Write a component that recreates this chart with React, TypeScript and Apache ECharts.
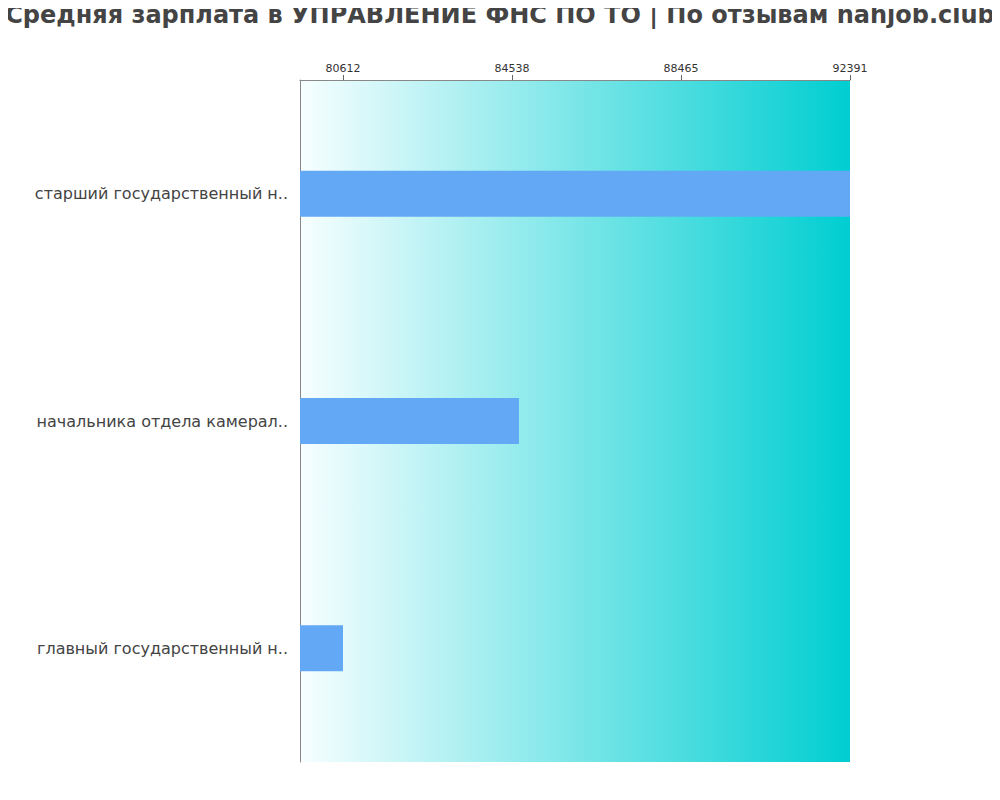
import React, { useEffect, useRef } from 'react';
import * as echarts from 'echarts';

// Job titles, top to bottom as drawn
const categories = [
  'главный государственный н..',
  'начальника отдела камерал..',
  'старший государственный н..',
];
// Average salary per title, same order
const salaries = [80612, 84700, 92391];
// Tick labels on the top axis
const tickValues = [80612, 84538, 88465, 92391];

const axisMin = 79613;
const axisMax = 92391;

const App: React.FC = () => {
  const chartRef = useRef<HTMLDivElement>(null);

  useEffect(() => {
    if (!chartRef.current) return;
    const chart = echarts.init(chartRef.current, undefined, { renderer: 'svg' });

    const option: echarts.EChartsOption = {
      animation: false,
      backgroundColor: '#fff',
      title: {
        text: 'Средняя зарплата в УПРАВЛЕНИЕ ФНС ПО ТО | По отзывам nahjob.club',
        left: 'center',
        top: 3,
        padding: 0,
        textStyle: {
          fontFamily: 'DejaVu Sans',
          fontSize: 24,
          fontWeight: 'bold',
          color: '#444',
        },
      },
      grid: {
        left: 300,
        top: 80,
        width: 550,
        height: 682,
        show: true,
        borderWidth: 0,
        backgroundColor: new echarts.graphic.LinearGradient(0, 0, 1, 0, [
          { offset: 0, color: '#f7feff' },
          { offset: 1, color: '#00ced1' },
        ]),
      },
      xAxis: {
        type: 'value',
        position: 'top',
        min: axisMin,
        max: axisMax,
        splitLine: { show: false },
        axisLine: { show: true, lineStyle: { color: '#888' } },
        axisTick: {
          show: true,
          length: 5,
          lineStyle: { color: '#666' },
          customValues: tickValues,
        },
        axisLabel: {
          color: '#333',
          fontSize: 11,
          fontFamily: 'DejaVu Sans',
          customValues: tickValues,
          formatter: (v: number) => String(Math.round(v)),
          margin: 6,
        },
      },
      yAxis: {
        type: 'category',
        data: categories,
        axisLine: { show: true, lineStyle: { color: '#888' } },
        axisTick: { show: false },
        axisLabel: {
          color: '#444',
          fontSize: 16,
          fontFamily: 'DejaVu Sans',
          margin: 12,
        },
      },
      series: [
        {
          type: 'bar',
          data: salaries,
          barWidth: 46,
          itemStyle: { color: '#63a8f5' },
        },
      ],
    };

    chart.setOption(option);
    return () => {
      chart.dispose();
    };
  }, []);

  return <div ref={chartRef} style={{ width: 1000, height: 800, margin: -8 }} />;
};

export default App;
